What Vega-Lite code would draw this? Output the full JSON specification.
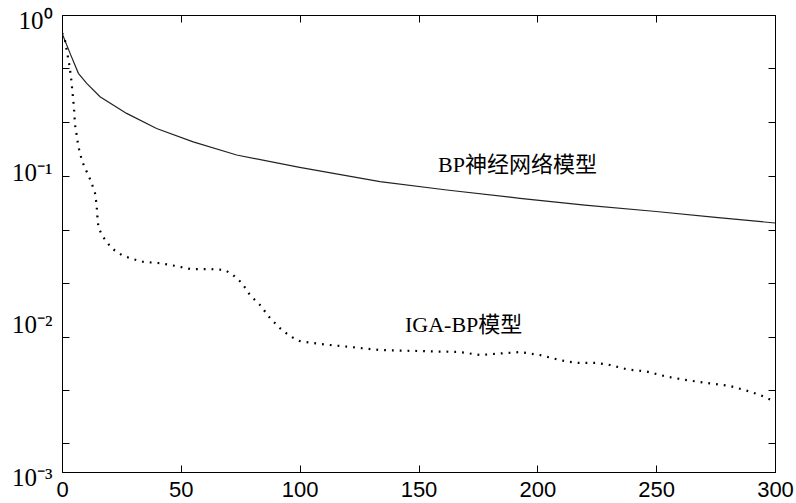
{
  "$schema": "https://vega.github.io/schema/vega-lite/v6.json",
  "width": 713,
  "height": 457,
  "autosize": {"type": "none"},
  "padding": {"left": 62, "top": 15, "right": 21, "bottom": 31},
  "background": "white",
  "config": {
    "view": {"stroke": "black", "strokeWidth": 1},
    "axis": {"domainColor": "black", "tickColor": "black", "labelColor": "black", "grid": false, "title": null}
  },
  "datasets": {
    "bp": [
      {"x": 0, "v": 0.76}, {"x": 3.4, "v": 0.56}, {"x": 6.9, "v": 0.414}, {"x": 10.4, "v": 0.356},
      {"x": 16, "v": 0.291}, {"x": 27.2, "v": 0.226}, {"x": 39.8, "v": 0.18}, {"x": 55.2, "v": 0.147},
      {"x": 73.5, "v": 0.1205}, {"x": 100, "v": 0.1}, {"x": 133.8, "v": 0.0805}, {"x": 161.9, "v": 0.071},
      {"x": 192.7, "v": 0.0626}, {"x": 220, "v": 0.0565}, {"x": 250, "v": 0.0513}, {"x": 275, "v": 0.047},
      {"x": 300, "v": 0.0431}
    ],
    "iga": [
      {"x": 0, "v": 0.76}, {"x": 1, "v": 0.72}, {"x": 2.2, "v": 0.56}, {"x": 3.1, "v": 0.47},
      {"x": 3.8, "v": 0.39}, {"x": 4.5, "v": 0.3}, {"x": 5.05, "v": 0.244}, {"x": 5.5, "v": 0.19},
      {"x": 6.9, "v": 0.137}, {"x": 8.3, "v": 0.112}, {"x": 9.7, "v": 0.0986}, {"x": 11.1, "v": 0.089},
      {"x": 12.5, "v": 0.0785}, {"x": 13.9, "v": 0.0676}, {"x": 14.3, "v": 0.061}, {"x": 14.6, "v": 0.0552},
      {"x": 14.9, "v": 0.0474}, {"x": 15.3, "v": 0.0408}, {"x": 16.7, "v": 0.036}, {"x": 18.8, "v": 0.0325},
      {"x": 20.9, "v": 0.0294}, {"x": 25.1, "v": 0.0266}, {"x": 28.6, "v": 0.0253}, {"x": 34, "v": 0.024},
      {"x": 41, "v": 0.0235}, {"x": 48, "v": 0.0225}, {"x": 54, "v": 0.0215}, {"x": 62, "v": 0.0215},
      {"x": 68.6, "v": 0.0212}, {"x": 72, "v": 0.0196}, {"x": 75.7, "v": 0.0174}, {"x": 77.4, "v": 0.0159},
      {"x": 79.1, "v": 0.0145}, {"x": 83.3, "v": 0.0125}, {"x": 87.5, "v": 0.01025}, {"x": 91.7, "v": 0.0088},
      {"x": 95.9, "v": 0.0078}, {"x": 100, "v": 0.00724}, {"x": 108.6, "v": 0.00692}, {"x": 121.2, "v": 0.00662},
      {"x": 133.8, "v": 0.00632}, {"x": 150.6, "v": 0.00622}, {"x": 167.5, "v": 0.00613}, {"x": 175.9, "v": 0.00586},
      {"x": 184.3, "v": 0.006}, {"x": 192.7, "v": 0.00613}, {"x": 201.1, "v": 0.00586}, {"x": 209.5, "v": 0.00543},
      {"x": 216, "v": 0.00521}, {"x": 224.3, "v": 0.00521}, {"x": 230.6, "v": 0.00504}, {"x": 237.7, "v": 0.00472},
      {"x": 246.1, "v": 0.00456}, {"x": 254.6, "v": 0.00422}, {"x": 264.2, "v": 0.00398}, {"x": 272.6, "v": 0.00382},
      {"x": 281, "v": 0.00367}, {"x": 289.5, "v": 0.00337}, {"x": 293.7, "v": 0.0032}, {"x": 300, "v": 0.0029}
    ],
    "labels": [
      {"x": 158.2, "v": 0.1036, "t": "BP神经网络模型"},
      {"x": 144.3, "v": 0.00923, "t": "IGA-BP模型"}
    ]
  },
  "layer": [
    {
      "data": {"name": "bp"},
      "mark": {"type": "line", "color": "#222222", "strokeWidth": 1.2, "clip": true},
      "encoding": {
        "x": {
          "field": "x", "type": "quantitative",
          "scale": {"domain": [0, 300], "nice": false, "zero": false},
          "axis": {
            "orient": "bottom", "values": [0, 50, 100, 150, 200, 250, 300], "tickSize": -7,
            "labelFont": "Liberation Sans", "labelFontSize": 22, "labelPadding": 14, "labelFlush": false,
            "labelBaseline": "top"
          }
        },
        "y": {
          "field": "v", "type": "quantitative",
          "scale": {"type": "log", "domain": [0.001, 1], "nice": false},
          "axis": {
            "orient": "left",
            "values": [1, 0.4467, 0.1977, 0.1, 0.0881, 0.0388, 0.01734, 0.01, 0.00773, 0.00345, 0.00154, 0.001],
            "tickSize": -7,
            "tickOpacity": {"condition": {"test": "datum.value == 1 || datum.value == 0.1 || datum.value == 0.01 || datum.value == 0.001", "value": 0}, "value": 1},
            "labelExpr": "datum.value == 1 ? '10⁰' : datum.value == 0.1 ? '10⁻¹' : datum.value == 0.01 ? '10⁻²' : datum.value == 0.001 ? '10⁻³' : ''",
            "labelFont": "Liberation Serif", "labelFontSize": 25, "labelPadding": 17, "labelOffset": 5,
            "labelFlush": false, "labelOverlap": false
          }
        }
      }
    },
    {
      "data": {"name": "iga"},
      "mark": {"type": "line", "color": "black", "strokeWidth": 2.2, "strokeDash": [1.8, 6], "strokeCap": "butt", "clip": true},
      "encoding": {
        "x": {
          "field": "x", "type": "quantitative",
          "axis": {"orient": "top", "values": [50, 100, 150, 200, 250], "tickSize": -7, "labels": false}
        },
        "y": {
          "field": "v", "type": "quantitative",
          "axis": {
            "orient": "right",
            "values": [0.4467, 0.1977, 0.0881, 0.0388, 0.01734, 0.00773, 0.00345, 0.00154],
            "tickSize": -7, "labels": false
          }
        }
      }
    },
    {
      "data": {"name": "labels"},
      "mark": {"type": "text", "align": "left", "baseline": "middle", "font": "Liberation Serif, Noto Sans CJK SC", "fontSize": 22, "color": "black"},
      "encoding": {
        "x": {"field": "x", "type": "quantitative", "axis": null},
        "y": {"field": "v", "type": "quantitative", "axis": null},
        "text": {"field": "t"}
      }
    }
  ],
  "resolve": {"axis": {"x": "independent", "y": "independent"}}
}
